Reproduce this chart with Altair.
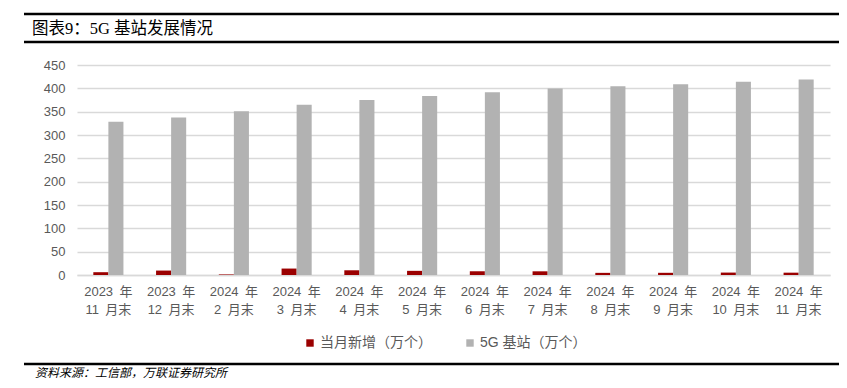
import altair as alt
import pandas as pd

S = "\u2002"
categories = [f"2023{S}年|11{S}月末", f"2023{S}年|12{S}月末", f"2024{S}年|2{S}月末", f"2024{S}年|3{S}月末",
              f"2024{S}年|4{S}月末", f"2024{S}年|5{S}月末", f"2024{S}年|6{S}月末", f"2024{S}年|7{S}月末",
              f"2024{S}年|8{S}月末", f"2024{S}年|9{S}月末", f"2024{S}年|10{S}月末", f"2024{S}年|11{S}月末"]
new_monthly = [6.0, 9.5, 1.2, 13.8, 10.1, 8.9, 8.0, 7.9, 4.6, 4.7, 5.2, 5.0]
total_5g = [328.2, 337.7, 350.9, 364.7, 374.8, 383.7, 391.7, 399.6, 404.2, 408.9, 414.1, 419.1]
series = ["当月新增（万个）", "5G 基站（万个）"]
colors = ["#9b0000", "#b2b2b2"]

rows = []
for c, a, b in zip(categories, new_monthly, total_5g):
    rows.append({"cat": c, "series": series[0], "value": a})
    rows.append({"cat": c, "series": series[1], "value": b})
df = pd.DataFrame(rows)

W, H = 753, 210
label_color = "#595959"
font = "Liberation Sans, Noto Sans CJK SC"
serif = "Liberation Serif, Noto Sans CJK SC"

bars = alt.Chart(df).mark_bar().encode(
    x=alt.X("cat:N", sort=categories, title=None,
            scale=alt.Scale(paddingInner=0.52, paddingOuter=0.26),
            axis=alt.Axis(labelExpr="split(datum.label, '|')", labelAngle=0,
                          labelFontSize=13, labelColor=label_color, labelFont=font,
                          labelLineHeight=18, labelPadding=10, ticks=False,
                          domainColor="#d9d9d9", domainWidth=1.5, grid=False)),
    xOffset=alt.XOffset("series:N", sort=series),
    y=alt.Y("value:Q", title=None,
            scale=alt.Scale(domain=[0, 450], nice=False),
            axis=alt.Axis(values=list(range(0, 451, 50)), labelFontSize=13,
                          labelColor=label_color, labelFont=font, labelPadding=12,
                          ticks=False, domain=False, gridColor="#d9d9d9", gridWidth=1.5)),
    color=alt.Color("series:N", sort=series,
                    scale=alt.Scale(domain=series, range=colors),
                    legend=alt.Legend(orient="none", legendX=226, legendY=271,
                                      direction="horizontal", title=None,
                                      symbolType="square", symbolSize=55,
                                      symbolStrokeWidth=0, labelFontSize=14,
                                      labelColor=label_color, labelFont=font,
                                      columnPadding=31, labelOffset=3)),
)

def hline(ypos):
    return alt.Chart(pd.DataFrame({"a": [1]})).mark_rule(color="#000", strokeWidth=2.5).encode(
        x=alt.value(-53), x2=alt.value(762), y=alt.value(ypos))

title = alt.Chart(pd.DataFrame({"t": ["图表9：5G 基站发展情况"]})).mark_text(
    align="left", baseline="middle", fontSize=16.5, font=serif, color="#000"
).encode(x=alt.value(-45), y=alt.value(-36), text="t:N")

source = alt.Chart(pd.DataFrame({"t": ["资料来源：工信部，万联证券研究所"]})).mark_text(
    align="left", baseline="middle", fontSize=12, font=serif, fontStyle="italic", color="#000"
).encode(x=alt.value(-42), y=alt.value(308), text="t:N")

chart = alt.layer(bars, hline(-51), hline(-23), hline(299), title, source).properties(
    width=W, height=H,
    padding={"left": 69, "top": 57, "right": 9, "bottom": 105},
    autosize=alt.AutoSizeParams(type="none"),
).configure_view(stroke=None)

chart.save("out.html", embed_options={"renderer": "svg", "actions": False})
